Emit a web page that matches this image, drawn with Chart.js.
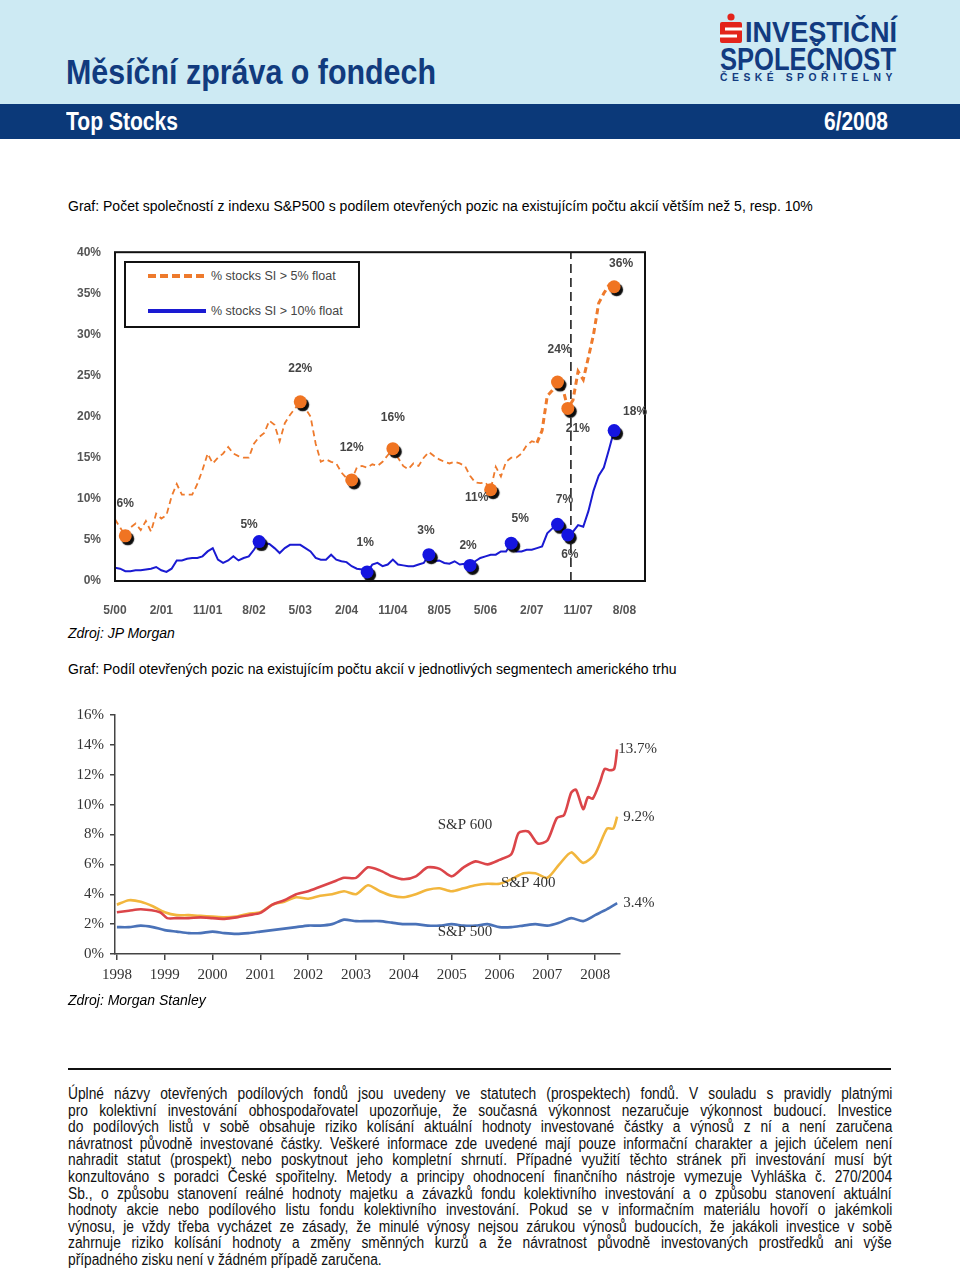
<!DOCTYPE html>
<html lang="cs">
<head>
<meta charset="UTF-8">
<title>Měsíční zpráva o fondech - Top Stocks 6/2008</title>
<script src="https://cdn.jsdelivr.net/npm/chart.js"></script>
<style>
    body { margin: 0; font-family: "Liberation Sans", Arial, sans-serif; }
    #page { position: relative; width: 960px; height: 1270px; background: #fff; overflow: hidden; }
    .abs { position: absolute; white-space: nowrap; }
    .fit { transform-origin: 0 0; }
    #top { position: absolute; left: 0; top: 0; width: 960px; height: 104px; background: #cdeaf3; }
    #bar { position: absolute; left: 0; top: 104px; width: 960px; height: 35px; background: #0b3979; }
    .navy { color: #123b80; font-weight: bold; }
    .cap { font-size: 14px; line-height: 16px; color: #000; }
    #legend1 { position: absolute; left: 124px; top: 261px; width: 232px; height: 63px; border: 2px solid #111; background: #fff; }
    #legend1 .t { position: absolute; left: 85px; font-size: 12.5px; color: #444; line-height: 14px; }
    #rule { position: absolute; left: 68px; top: 1068px; width: 823px; height: 2px; background: #111; }
    #para { position: absolute; left: 68px; top: 1086px; }
    .jl { font-size: 16px; line-height: 16.6px; height: 16.6px; transform: scaleX(0.86); transform-origin: 0 0; color: #111; }
    .jl span { display: inline-block; white-space: nowrap; }
</style>
</head>
<body>
<div id="page">
    <div id="top"></div>
    <div id="bar"></div>

    <div class="abs fit navy" data-w="370" style="left:66px;top:54px;font-size:35px;line-height:35px;color:#113b7e">Měsíční zpráva o fondech</div>

    <svg class="abs" style="left:718px;top:12px" width="28" height="34" viewBox="0 0 28 34">
        <circle cx="13" cy="5" r="3.6" fill="#e3241b"/>
        <rect x="2" y="10" width="22" height="21" rx="2" fill="#e3241b"/>
        <rect x="7" y="15.5" width="17" height="3" fill="#fff"/>
        <rect x="2" y="22.5" width="17" height="3" fill="#fff"/>
    </svg>
    <div class="abs fit navy" data-w="152" style="left:745px;top:18px;font-size:29px;line-height:29px">INVESTIČNÍ</div>
    <div class="abs fit navy" data-w="176" style="left:720px;top:44px;font-size:30.5px;line-height:30.5px">SPOLEČNOST</div>
    <div class="abs fit navy" data-w="177" style="left:720px;top:72.5px;font-size:10px;line-height:10px;letter-spacing:4.4px">ČESKÉ SPOŘITELNY</div>

    <div class="abs fit" data-w="112" style="left:66px;top:109px;font-size:25px;line-height:25px;font-weight:bold;color:#fff">Top Stocks</div>
    <div class="abs fit" data-w="64" style="left:824px;top:109px;font-size:25px;line-height:25px;font-weight:bold;color:#fff">6/2008</div>

    <div class="abs cap" style="left:68px;top:198px">Graf: Počet společností z indexu S&amp;P500 s podílem otevřených pozic na existujícím počtu akcií větším než 5, resp. 10%</div>

    <div class="abs" style="left:60px;top:231px;width:600px;height:390px"><canvas id="chart1"></canvas></div>

    <div id="legend1">
        <svg class="abs" style="left:22px;top:9px" width="60" height="8"><line x1="0" y1="4" x2="58" y2="4" stroke="#ee7a2c" stroke-width="4" stroke-dasharray="8,4"/></svg>
        <div class="t" style="top:6px">% stocks SI &gt; 5% float</div>
        <svg class="abs" style="left:22px;top:44px" width="60" height="8"><line x1="0" y1="4" x2="58" y2="4" stroke="#1a1ad2" stroke-width="4"/></svg>
        <div class="t" style="top:41px">% stocks SI &gt; 10% float</div>
    </div>

    <div class="abs cap" style="left:68px;top:625px;font-style:italic">Zdroj: JP Morgan</div>

    <div class="abs cap" style="left:68px;top:661px">Graf: Podíl otevřených pozic na existujícím počtu akcií v jednotlivých segmentech amerického trhu</div>

    <div class="abs" style="left:55px;top:700px;width:620px;height:300px"><canvas id="chart2"></canvas></div>

    <div class="abs cap" style="left:68px;top:992px;font-style:italic">Zdroj: Morgan Stanley</div>

    <div id="rule"></div>
    <div id="para">
        <div class="jl"><span>Úplné názvy otevřených podílových fondů jsou uvedeny ve statutech (prospektech) fondů. V souladu s pravidly platnými</span></div>
        <div class="jl"><span>pro kolektivní investování obhospodařovatel upozorňuje, že současná výkonnost nezaručuje výkonnost budoucí. Investice</span></div>
        <div class="jl"><span>do podílových listů v sobě obsahuje riziko kolísání aktuální hodnoty investované částky a výnosů z ní a není zaručena</span></div>
        <div class="jl"><span>návratnost původně investované částky. Veškeré informace zde uvedené mají pouze informační charakter a jejich účelem není</span></div>
        <div class="jl"><span>nahradit statut (prospekt) nebo poskytnout jeho kompletní shrnutí. Případné využití těchto stránek při investování musí být</span></div>
        <div class="jl"><span>konzultováno s poradci České spořitelny. Metody a principy ohodnocení finančního nástroje vymezuje Vyhláška č. 270/2004</span></div>
        <div class="jl"><span>Sb., o způsobu stanovení reálné hodnoty majetku a závazků fondu kolektivního investování a o způsobu stanovení aktuální</span></div>
        <div class="jl"><span>hodnoty akcie nebo podílového listu fondu kolektivního investování. Pokud se v informačním materiálu hovoří o jakémkoli</span></div>
        <div class="jl"><span>výnosu, je vždy třeba vycházet ze zásady, že minulé výnosy nejsou zárukou výnosů budoucích, že jakákoli investice v sobě</span></div>
        <div class="jl"><span>zahrnuje riziko kolísání hodnoty a změny směnných kurzů a že návratnost původně investovaných prostředků ani výše</span></div>
        <div class="jl last"><span>případného zisku není v žádném případě zaručena.</span></div>
    </div>
</div>

<script>
    // squeeze header texts to the width they take in the original
    document.querySelectorAll('.fit').forEach(el => {
        const w = el.getBoundingClientRect().width;
        el.style.transform = 'scaleX(' + (Number(el.dataset.w) / w) + ')';
    });

    // justify disclaimer lines to 824px (line breaks as in the original)
    document.querySelectorAll('.jl').forEach(el => {
        if (el.classList.contains('last')) return;
        const sp = el.firstElementChild;
        const target = 824 / 0.86;
        const gaps = (sp.textContent.match(/ /g) || []).length;
        const extra = (target - sp.offsetWidth) / gaps;
        if (extra >= 0) sp.style.wordSpacing = extra + 'px';
        else el.style.transform = 'scaleX(' + (824 / sp.offsetWidth) + ')';
    });

    // ---- graf 1: months counted from 5/2000 (index = month) ----
    const xLabels1 = ['5/00', '2/01', '11/01', '8/02', '5/03', '2/04', '11/04', '8/05', '5/06', '2/07', '11/07', '8/08'];
    const xTicks1 = [0, 9, 18, 27, 36, 45, 54, 63, 72, 81, 90, 99];
    const cutMonth = 88.6; // svislá čára (10/07)

    const stocks5 = [
        7.5, 6.5, 5.5, 6.5, 7.0, 6.2, 7.3, 6.0, 8.2, 7.6,
        8.0, 10.3, 11.8, 10.5, 10.5, 10.5, 11.8, 13.5, 15.5, 14.3,
        15.0, 15.5, 16.3, 15.5, 15.2, 15.0, 15.0, 16.7, 17.5, 18.0,
        19.5, 19.0, 17.0, 19.2, 20.2, 21.0, 21.8, 21.0, 20.0, 16.7,
        14.5, 14.8, 14.5, 14.3, 13.2, 12.5, 12.3, 13.8, 14.0, 13.8,
        14.2, 14.0, 14.5, 15.3, 16.1, 15.0, 14.0, 13.6, 14.3, 14.0,
        15.0, 15.7, 15.2, 14.8, 14.5, 14.3, 14.5, 14.3, 14.0, 12.8,
        12.0, 11.9, 12.0, 11.1, 13.9, 12.7, 14.5, 15.0, 15.0, 15.5,
        16.5, 17.0, 16.8, 18.3, 22.5, 23.2, 24.2, 23.5, 21.0, 22.0,
        25.5, 24.5, 27.2, 30.0, 33.8, 35.0, 36.0, 35.8
    ];
    const stocks10 = [
        1.6, 1.5, 1.2, 1.2, 1.3, 1.3, 1.4, 1.5, 1.7, 1.3,
        1.1, 1.5, 2.5, 2.5, 2.7, 2.8, 2.8, 3.0, 3.6, 4.0,
        2.6, 2.2, 2.5, 3.0, 2.5, 2.8, 3.0, 3.8, 4.8, 4.6,
        4.5, 4.0, 3.4, 4.0, 4.4, 4.4, 4.4, 4.0, 3.6, 2.8,
        2.6, 2.6, 3.2, 2.6, 2.4, 2.3, 1.8, 1.5, 1.4, 1.1,
        2.0, 2.2, 1.8, 2.0, 2.6, 2.0, 1.9, 1.8, 1.8, 2.0,
        2.2, 3.2, 2.4, 2.5, 2.2, 2.1, 2.4, 2.0, 2.1, 1.9,
        2.4, 2.8, 3.0, 3.2, 3.2, 3.6, 3.6, 4.6, 3.6, 3.6,
        3.8, 3.8, 4.0, 4.2, 5.8, 6.4, 6.9, 6.3, 5.6, 6.0,
        6.8, 6.6, 8.5, 11.0, 12.8, 13.8, 16.0, 18.3
    ];

    // zvýrazněné body
    const mark5Months = [2, 36, 46, 54, 73, 86, 88, 97];
    const mark5Text = ['6%', '22%', '12%', '16%', '11%', '24%', '21%', '36%'];
    const mark10Months = [28, 49, 61, 69, 77, 86, 88, 97];
    const mark10Text = ['5%', '1%', '3%', '2%', '5%', '7%', '6%', '18%'];

    // label offsets from the marker (px)
    const mark5Off = [[0, -32], [0, -33], [0, -32], [0, -31], [-14, 8], [2, -32], [10, 20], [7, -23]];
    const mark10Off = [[-10, -17], [-2, -29], [-3, -24], [-2, -20], [9, -25], [7, -25], [2, 20], [21, -19]];

    const boxPlugin = {
        id: 'box',
        afterDatasetsDraw(chart) {
            const a = chart.chartArea, ctx = chart.ctx;
            ctx.save();
            ctx.strokeStyle = '#111';
            ctx.lineWidth = 2;
            ctx.strokeRect(a.left, a.top, a.right - a.left, a.bottom - a.top);
            ctx.restore();
        }
    };

    const shadowPlugin = {
        id: 'markerShadow',
        beforeDatasetDraw(chart, args) {
            if (!chart.data.datasets[args.index].shadow) return;
            const ctx = chart.ctx;
            ctx.save();
            ctx.shadowColor = 'rgba(0,0,0,0.95)';
            ctx.shadowOffsetX = 2.5;
            ctx.shadowOffsetY = 3;
            ctx.shadowBlur = 1;
        },
        afterDatasetDraw(chart, args) {
            if (chart.data.datasets[args.index].shadow) chart.ctx.restore();
        }
    };

    const markLabels = {
        id: 'markLabels',
        afterDatasetsDraw(chart) {
            const ctx = chart.ctx;
            chart.data.datasets.forEach((ds, i) => {
                if (!ds.markText) return;
                const meta = chart.getDatasetMeta(i);
                ctx.save();
                ctx.font = 'bold 12px "Liberation Sans", Arial';
                ctx.fillStyle = '#444';
                ctx.textAlign = 'center';
                ctx.textBaseline = 'middle';
                meta.data.forEach((pt, j) => {
                    ctx.fillText(ds.markText[j], pt.x + ds.markOff[j][0], pt.y + ds.markOff[j][1]);
                });
                ctx.restore();
            });
        }
    };

    const tickFont1 = { family: '"Liberation Sans", Arial', size: 12, weight: 'bold' };

    new Chart(document.getElementById('chart1'), {
        type: 'line',
        data: {
            datasets: [
                {
                    data: mark5Months.map(m => ({ x: m, y: stocks5[m] })),
                    showLine: false, pointRadius: 6.5, pointHoverRadius: 6.5,
                    backgroundColor: '#f07422', borderWidth: 0, shadow: true, clip: false,
                    markText: mark5Text, markOff: mark5Off, order: 1
                },
                {
                    data: mark10Months.map(m => ({ x: m, y: stocks10[m] })),
                    showLine: false, pointRadius: 6.5, pointHoverRadius: 6.5,
                    backgroundColor: '#1515e0', borderWidth: 0, shadow: true, clip: false,
                    markText: mark10Text, markOff: mark10Off, order: 2
                },
                {
                    data: stocks10.map((v, i) => ({ x: i, y: v })),
                    borderColor: '#1a1ad2', borderWidth: 2, pointRadius: 0, tension: 0, order: 3
                },
                {
                    data: stocks5.map((v, i) => ({ x: i, y: v })),
                    borderColor: '#ee7a2c', borderWidth: 2, borderDash: [6, 4], pointRadius: 0, tension: 0,
                    segment: { borderWidth: c => c.p0.parsed.x >= 82 ? 3 : 1.8 },
                    order: 4
                },
                {
                    data: [{ x: cutMonth, y: 0 }, { x: cutMonth, y: 40 }],
                    borderColor: '#111', borderWidth: 1.5, borderDash: [9, 5], pointRadius: 0, order: 5
                }
            ]
        },
        options: {
            animation: false,
            responsive: true,
            maintainAspectRatio: false,
            devicePixelRatio: 1,
            layout: { padding: { top: 0, right: 15, left: 0, bottom: 0 } },
            plugins: { legend: { display: false }, tooltip: { enabled: false } },
            scales: {
                x: {
                    type: 'linear', min: 0, max: 103,
                    grid: { display: false, drawTicks: false },
                    border: { display: false },
                    afterBuildTicks: s => { s.ticks = xTicks1.map(v => ({ value: v })); },
                    afterFit: s => { s.height = 40; },
                    ticks: {
                        autoSkip: false, maxRotation: 0, padding: 22, color: '#555', font: tickFont1,
                        callback: (v, i) => xLabels1[i]
                    }
                },
                y: {
                    min: 0, max: 40,
                    grid: { display: false, drawTicks: false },
                    border: { display: false },
                    afterFit: s => { s.width = 55; },
                    ticks: { stepSize: 5, padding: 14, color: '#555', font: tickFont1, callback: v => v + '%' }
                }
            }
        },
        plugins: [shadowPlugin, boxPlugin, markLabels]
    });

    // ---- graf 2: S&P 600 / 400 / 500 ----
    const xLabels2 = ['1998', '1999', '2000', '2001', '2002', '2003', '2004', '2005', '2006', '2007', '2008'];

    const sp600Years = [1998, 1998.25, 1998.5, 1998.9, 1999.05, 1999.25, 1999.5, 1999.75, 2000, 2000.25, 2000.5, 2000.75,
        2001, 2001.25, 2001.5, 2001.75, 2002, 2002.25, 2002.5, 2002.75, 2003, 2003.25, 2003.5, 2003.75,
        2004, 2004.25, 2004.5, 2004.75, 2005, 2005.25, 2005.5, 2005.75, 2006, 2006.25, 2006.4, 2006.6, 2006.8,
        2007, 2007.2, 2007.35, 2007.5, 2007.6, 2007.75, 2007.85, 2007.95, 2008.1, 2008.2, 2008.3, 2008.4, 2008.46];
    const sp600 = [2.8, 2.9, 3.0, 2.8, 2.4, 2.4, 2.4, 2.45, 2.4, 2.35, 2.45, 2.6,
        2.75, 3.3, 3.6, 4.0, 4.2, 4.5, 4.8, 5.1, 5.1, 5.8, 5.6, 5.2,
        5.0, 5.2, 5.8, 5.7, 5.2, 5.8, 6.2, 6.0, 6.3, 6.7, 8.1, 8.2, 7.4,
        7.6, 9.1, 9.3, 10.8, 11.0, 9.7, 10.5, 10.4, 11.5, 12.4, 12.3, 12.4, 13.7];

    const sp400Years = [1998, 1998.25, 1998.5, 1998.75, 1999, 1999.25, 1999.5, 1999.75, 2000, 2000.25, 2000.5, 2000.75,
        2001, 2001.25, 2001.5, 2001.75, 2002, 2002.25, 2002.5, 2002.75, 2003, 2003.25, 2003.5, 2003.75,
        2004, 2004.25, 2004.5, 2004.75, 2005, 2005.25, 2005.5, 2005.75, 2006, 2006.25, 2006.5, 2006.75,
        2007, 2007.25, 2007.5, 2007.75, 2008, 2008.25, 2008.38, 2008.46];
    const sp400 = [3.3, 3.6, 3.5, 3.2, 2.8, 2.6, 2.6, 2.55, 2.5, 2.45, 2.5, 2.7,
        2.8, 3.3, 3.5, 3.8, 3.7, 3.9, 4.0, 4.2, 4.0, 4.6, 4.2, 3.9,
        3.8, 4.0, 4.3, 4.4, 4.2, 4.4, 4.6, 4.7, 4.7, 5.0, 5.4, 5.4,
        5.1, 6.0, 6.8, 6.1, 6.7, 8.4, 8.4, 9.2];

    const sp500Years = [1998, 1998.25, 1998.5, 1998.75, 1999, 1999.25, 1999.5, 1999.75, 2000, 2000.25, 2000.5, 2000.75,
        2001, 2001.25, 2001.5, 2001.75, 2002, 2002.25, 2002.5, 2002.75, 2003, 2003.25, 2003.5, 2003.75,
        2004, 2004.25, 2004.5, 2004.75, 2005, 2005.25, 2005.5, 2005.75, 2006, 2006.25, 2006.5, 2006.75,
        2007, 2007.25, 2007.5, 2007.75, 2008, 2008.25, 2008.46];
    const sp500 = [1.8, 1.8, 1.9, 1.8, 1.6, 1.5, 1.4, 1.4, 1.5, 1.4, 1.35, 1.4,
        1.5, 1.6, 1.7, 1.8, 1.9, 1.9, 2.0, 2.3, 2.2, 2.2, 2.2, 2.1,
        2.0, 2.0, 1.9, 1.9, 2.0, 1.9, 1.9, 2.0, 1.8, 1.8, 1.9, 2.0,
        1.9, 2.1, 2.4, 2.2, 2.6, 3.0, 3.4];

    // popisky řad: [text, rok, hodnota]
    const seriesNames = [['S&P 600', 2005.28, 8.6], ['S&P 400', 2006.6, 4.73], ['S&P 500', 2005.28, 1.47]];

    const serif = '"Liberation Serif", "Times New Roman", serif';

    const namesPlugin = {
        id: 'names',
        afterDatasetsDraw(chart) {
            const ctx = chart.ctx, xs = chart.scales.x, ys = chart.scales.y;
            ctx.save();
            ctx.font = '15px ' + serif;
            ctx.fillStyle = '#333';
            ctx.textBaseline = 'middle';
            ctx.textAlign = 'center';
            seriesNames.forEach(n => ctx.fillText(n[0], xs.getPixelForValue(n[1]), ys.getPixelForValue(n[2])));
            // koncové hodnoty
            ctx.textAlign = 'left';
            chart.data.datasets.forEach((ds, i) => {
                const pts = chart.getDatasetMeta(i).data;
                const last = pts[pts.length - 1];
                ctx.fillText(ds.data[ds.data.length - 1].y.toFixed(1) + '%', last.x + ds.endDx, last.y + ds.endDy);
            });
            ctx.restore();
        }
    };

    new Chart(document.getElementById('chart2'), {
        type: 'line',
        data: {
            datasets: [
                { data: sp600.map((v, i) => ({ x: sp600Years[i], y: v })), borderColor: '#db4549', endDx: 1, endDy: 0 },
                { data: sp400.map((v, i) => ({ x: sp400Years[i], y: v })), borderColor: '#f2b63d', endDx: 6, endDy: 0 },
                { data: sp500.map((v, i) => ({ x: sp500Years[i], y: v })), borderColor: '#4a72b8', endDx: 6, endDy: 0 }
            ].map(d => Object.assign(d, { borderWidth: 2.6, pointRadius: 0, tension: 0.25 }))
        },
        options: {
            animation: false,
            responsive: true,
            maintainAspectRatio: false,
            devicePixelRatio: 1,
            layout: { padding: { top: 14, right: 55, left: 0, bottom: 0 } },
            plugins: { legend: { display: false }, tooltip: { enabled: false } },
            scales: {
                x: {
                    type: 'linear', min: 1997.96, max: 2008.52,
                    grid: { drawOnChartArea: false, tickLength: 6, color: '#444', lineWidth: 1.5 },
                    border: { color: '#444', width: 1.5 },
                    afterBuildTicks: s => { s.ticks = xLabels2.map(v => ({ value: Number(v) })); },
                    afterFit: s => { s.height = 46; },
                    ticks: {
                        autoSkip: false, maxRotation: 0, padding: 6, color: '#333',
                        font: { family: serif, size: 15 }, callback: (v, i) => xLabels2[i]
                    }
                },
                y: {
                    min: 0, max: 16,
                    grid: { drawOnChartArea: false, tickLength: 5, color: '#444', lineWidth: 1.5 },
                    border: { color: '#444', width: 1.5 },
                    afterFit: s => { s.width = 60; },
                    ticks: { stepSize: 2, padding: 6, color: '#333', font: { family: serif, size: 15 }, callback: v => v + '%' }
                }
            }
        },
        plugins: [namesPlugin]
    });
</script>
</body>
</html>
